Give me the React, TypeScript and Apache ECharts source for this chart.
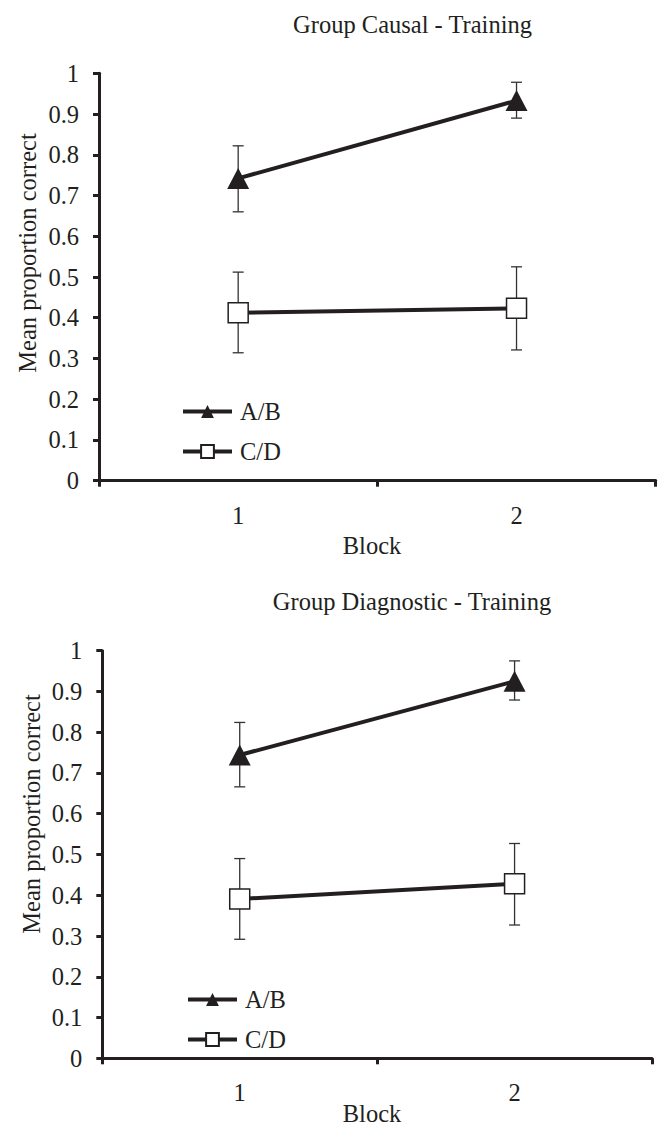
import React, { useEffect, useRef } from "react";
import * as echarts from "echarts";

const blocks = ["1", "2"];
const seriesNames = ["A/B", "C/D"];

// Group Causal
const causalAB = [0.742, 0.933];
const causalABLow = [0.66, 0.89];
const causalABHigh = [0.822, 0.978];
const causalCD = [0.412, 0.423];
const causalCDLow = [0.314, 0.321];
const causalCDHigh = [0.512, 0.525];

// Group Diagnostic
const diagAB = [0.744, 0.925];
const diagABLow = [0.666, 0.879];
const diagABHigh = [0.824, 0.975];
const diagCD = [0.391, 0.428];
const diagCDLow = [0.292, 0.327];
const diagCDHigh = [0.49, 0.527];

const titles = ["Group Causal - Training", "Group Diagnostic - Training"];
const xName = "Block";
const yName = "Mean proportion correct";

const FONT = "Liberation Serif";
const INK = "#231f20";
const FS = 24.5;

export default function App() {
  const ref = useRef<HTMLDivElement>(null);

  useEffect(() => {
    if (!ref.current) return;
    const chart = echarts.init(ref.current, null, { renderer: "svg" });

    const errData = (lo: number[], hi: number[]) =>
      lo.map((l, i) => [i, l, hi[i]]);

    const errSeries = (idx: number, lo: number[], hi: number[], name: string) => ({
      type: "custom",
      name,
      xAxisIndex: idx,
      yAxisIndex: idx,
      z: 1,
      silent: true,
      encode: { x: 0, y: [1, 2] },
      data: errData(lo, hi),
      renderItem: (params: any, api: any) => {
        const x = api.value(0);
        const pLo = api.coord([x, api.value(1)]);
        const pHi = api.coord([x, api.value(2)]);
        const hw = 5.5;
        const st = { stroke: "#333", lineWidth: 1.3 };
        return {
          type: "group",
          children: [
            { type: "line", shape: { x1: pLo[0], y1: pLo[1], x2: pHi[0], y2: pHi[1] }, style: st },
            { type: "line", shape: { x1: pLo[0] - hw, y1: pLo[1], x2: pLo[0] + hw, y2: pLo[1] }, style: st },
            { type: "line", shape: { x1: pHi[0] - hw, y1: pHi[1], x2: pHi[0] + hw, y2: pHi[1] }, style: st },
          ],
        };
      },
    });

    const abSeries = (idx: number, data: number[]) => ({
      type: "line",
      name: seriesNames[0],
      xAxisIndex: idx,
      yAxisIndex: idx,
      data,
      z: 3,
      symbol: "triangle",
      symbolSize: [22, 21],
      lineStyle: { color: INK, width: 4 },
      itemStyle: { color: INK, borderColor: INK, borderWidth: 0 },
    });
    const cdSeries = (idx: number, data: number[]) => ({
      type: "line",
      name: seriesNames[1],
      xAxisIndex: idx,
      yAxisIndex: idx,
      data,
      z: 3,
      symbol: "rect",
      symbolSize: 20,
      lineStyle: { color: INK, width: 4 },
      itemStyle: { color: "#ffffff", borderColor: INK, borderWidth: 1.5 },
    });

    const grids = [
      { left: 99, top: 73.3, width: 556.7, height: 407.4 },
      { left: 102.3, top: 650.7, width: 549.7, height: 407.6 },
    ];

    const xAxis = grids.map((_, i) => ({
      type: "category",
      gridIndex: i,
      data: blocks,
      boundaryGap: true,
      axisLine: { lineStyle: { color: INK, width: 3 } },
      axisTick: { show: true, length: 6, lineStyle: { color: INK, width: 3 } },
      axisLabel: { color: INK, fontFamily: FONT, fontSize: FS, margin: 22 },
      splitLine: { show: false },
    }));

    const yAxis = grids.map((_, i) => ({
      type: "value",
      gridIndex: i,
      min: 0,
      max: 1,
      interval: 0.1,
      axisLine: { show: true, lineStyle: { color: INK, width: 3 } },
      axisTick: { show: true, length: 6, lineStyle: { color: INK, width: 3 } },
      axisLabel: { color: INK, fontFamily: FONT, fontSize: FS, margin: 20 },
      splitLine: { show: false },
    }));

    const legendBase = {
      data: seriesNames,
      orient: "vertical",
      itemWidth: 49,
      itemHeight: 16,
      itemGap: 15,
      selectedMode: false,
      lineStyle: { width: 4 },
      textStyle: { color: INK, fontFamily: FONT, fontSize: FS, padding: [0, 0, 0, 3] },
    };

    const txt = (x: number, y: number, text: string, rotation = 0) => ({
      type: "text",
      x,
      y,
      rotation,
      style: {
        text,
        fill: INK,
        font: `${FS}px "${FONT}"`,
        align: "center",
        verticalAlign: "middle",
      },
    });

    chart.setOption({
      animation: false,
      backgroundColor: "#ffffff",
      grid: grids,
      xAxis,
      yAxis,
      legend: [
        { ...legendBase, left: 176, top: 394 },
        { ...legendBase, left: 181, top: 982 },
      ],
      graphic: [
        txt(412.5, 24, titles[0]),
        txt(412, 601, titles[1]),
        txt(372, 545, xName),
        txt(372, 1113, xName),
        txt(27, 253, yName, Math.PI / 2),
        txt(31, 814, yName, Math.PI / 2),
      ],
      series: [
        errSeries(0, causalABLow, causalABHigh, "errAB1"),
        errSeries(0, causalCDLow, causalCDHigh, "errCD1"),
        abSeries(0, causalAB),
        cdSeries(0, causalCD),
        errSeries(1, diagABLow, diagABHigh, "errAB2"),
        errSeries(1, diagCDLow, diagCDHigh, "errCD2"),
        abSeries(1, diagAB),
        cdSeries(1, diagCD),
      ],
    });

    return () => chart.dispose();
  }, []);

  return (
    <div
      ref={ref}
      style={{ position: "absolute", left: 0, top: 0, width: 665, height: 1125, background: "#fff" }}
    />
  );
}
